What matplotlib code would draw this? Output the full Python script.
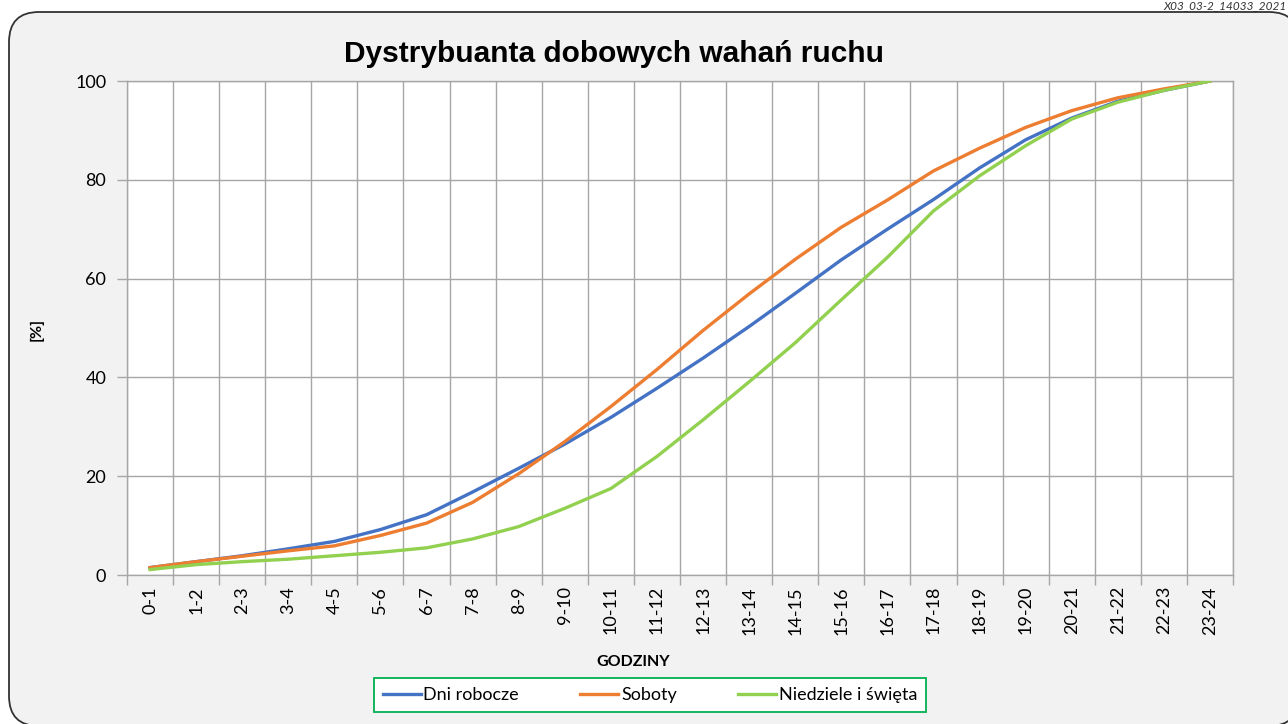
import numpy as np
import matplotlib.pyplot as plt
from matplotlib.patches import FancyBboxPatch

hours = ["0-1", "1-2", "2-3", "3-4", "4-5", "5-6", "6-7", "7-8", "8-9", "9-10",
         "10-11", "11-12", "12-13", "13-14", "14-15", "15-16", "16-17", "17-18",
         "18-19", "19-20", "20-21", "21-22", "22-23", "23-24"]

dni_robocze = [1.5, 2.7, 3.9, 5.3, 6.8, 9.2, 12.2, 16.8, 21.6, 26.5, 31.9, 37.8,
               43.9, 50.3, 57.0, 63.8, 70.0, 76.0, 82.4, 88.1, 92.5, 95.9, 98.1, 100]
soboty = [1.5, 2.7, 3.8, 4.9, 5.9, 8.0, 10.5, 14.7, 20.5, 27.0, 34.1, 41.6,
          49.5, 56.9, 63.9, 70.4, 75.9, 81.8, 86.4, 90.6, 94.0, 96.6, 98.4, 100]
niedziele = [1.1, 2.1, 2.7, 3.2, 3.9, 4.6, 5.5, 7.3, 9.8, 13.5, 17.5, 24.0,
             31.4, 39.1, 47.0, 55.7, 64.3, 73.7, 80.8, 86.9, 92.3, 95.7, 98.1, 100]

yticks = [0, 20, 40, 60, 80, 100]

font = "Lato"
grid_col = "#a6a6a6"

fig = plt.figure(figsize=(12.88, 7.24), dpi=100)
fig.patch.set_facecolor("white")

# rounded chart area background (inches)
bg = FancyBboxPatch((0.09, -0.02), 12.9, 7.14, boxstyle="round,pad=0,rounding_size=0.3",
                    transform=fig.dpi_scale_trans, facecolor="#f2f2f2", edgecolor="#333333",
                    linewidth=1.3, zorder=-5)
fig.patches.append(bg)

fig.text(0.999, 1.0, "X03_03-2_14033_2021", ha="right", va="top",
         fontsize=8.5, style="italic", family=font, color="#333333")

ax = fig.add_axes([0.0986, 0.2058, 0.8587, 0.6823])
ax.set_facecolor("white")

x = np.arange(len(hours))
ax.plot(x, dni_robocze, color="#4472c4", lw=2.4, label="Dni robocze", zorder=3)
ax.plot(x, soboty, color="#ed7d31", lw=2.4, label="Soboty", zorder=3)
ax.plot(x, niedziele, color="#92d050", lw=2.4, label="Niedziele i święta", zorder=3)

ax.set_xlim(-0.5, len(hours) - 0.5)
ax.set_ylim(0, 100)

ax.set_xticks(x)
ax.set_xticklabels(hours, rotation=90, family=font, fontsize=13)
ax.set_xticks(np.arange(len(hours) + 1) - 0.5, minor=True)
ax.tick_params(axis="x", which="major", length=0, pad=8)
ax.tick_params(axis="x", which="minor", length=7, color=grid_col, width=1)

ax.set_yticks(yticks)
ax.set_yticklabels([str(v) for v in yticks], family=font, fontsize=13)
ax.tick_params(axis="y", length=7, color=grid_col, width=1, pad=8)

ax.grid(True, which="minor", axis="x", color=grid_col, lw=1)
ax.grid(True, which="major", axis="y", color=grid_col, lw=1)
ax.set_axisbelow(True)

for s in ["top", "right", "left", "bottom"]:
    ax.spines[s].set_color(grid_col)
    ax.spines[s].set_linewidth(1)

fig.text(0.4767, 0.925, "Dystrybuanta dobowych wahań ruchu", ha="center", va="center",
         fontsize=21.5, fontweight="bold", family="Liberation Sans")
fig.text(0.4915, 0.086, "GODZINY", ha="center", va="center",
         fontsize=11.5, fontweight="bold", family=font)
fig.text(0.028, 0.545, "[%]", ha="center", va="center", rotation=90,
         fontsize=11.5, fontweight="bold", family=font)

leg = fig.legend(loc="center", bbox_to_anchor=(0.5047, 0.04), ncol=3, frameon=True,
                 fancybox=False, framealpha=1, prop={"family": font, "size": 13},
                 handlelength=2.1, columnspacing=3.4, handletextpad=0.15, borderpad=0.5,
                 borderaxespad=0)
leg.get_frame().set_edgecolor("#00b050")
leg.get_frame().set_linewidth(1.3)
leg.get_frame().set_facecolor("white")

fig.savefig("out.png", dpi=100)
